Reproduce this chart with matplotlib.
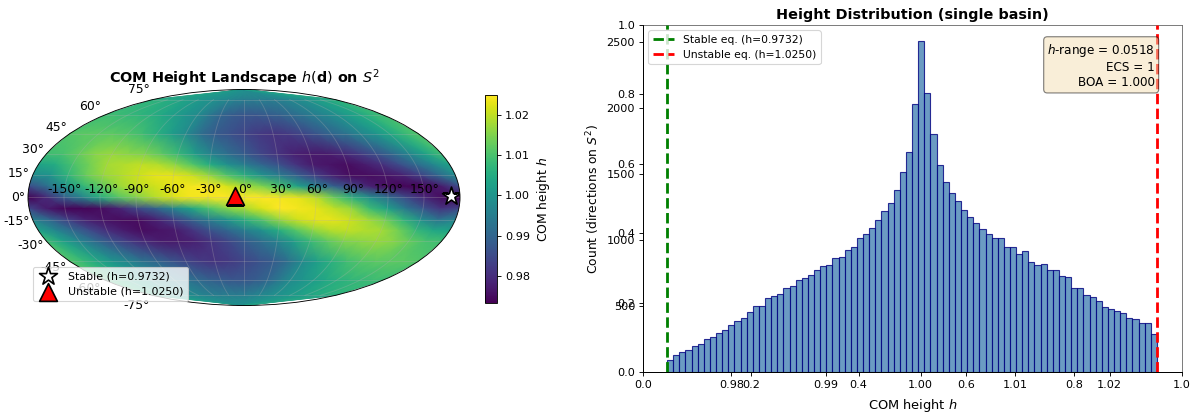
import numpy as np
import matplotlib
matplotlib.use("Agg")
import matplotlib.pyplot as plt
from matplotlib.transforms import Affine2D

DPI = 81
W, H = 1199, 415

H_STABLE = 0.9732
H_UNSTABLE = 1.0250
STABLE_LON, STABLE_LAT = 172.5, 1
UNSTABLE_LON, UNSTABLE_LAT = -7.5, 1

counts = [91, 129, 149, 167, 197, 212, 250, 265, 293, 321, 356, 384, 412, 457, 497, 500,
          561, 576, 591, 636, 651, 697, 710, 735, 770, 800, 813, 861, 871, 924, 944, 1013,
          1045, 1091, 1149, 1222, 1280, 1383, 1515, 1667, 2030, 2507, 2116, 1808, 1570, 1444,
          1359, 1298, 1232, 1174, 1126, 1083, 1048, 1015, 1013, 944, 944, 896, 914, 836, 813,
          816, 770, 770, 727, 717, 639, 636, 586, 566, 538, 490, 477, 460, 447, 407, 401, 374,
          371, 290]

lon_deg = [-180, -165, -150, -135, -120, -105, -90, -75, -60, -45, -30, -15, 0,
           15, 30, 45, 60, 75, 90, 105, 120, 135, 150, 165, 180]
lat_deg = [90, 75, 60, 45, 30, 22.5, 15, 7.5, 0, -7.5, -15, -22.5, -30, -45, -60, -75, -90]
h_p90 = [1.000] * 25
h_p75 = [1.006,1.006,1.005,1.004,1.003,1.002,1.001,1.000,.999,.998,.997,.996,.995,.995,.995,.995,.995,.996,.997,.998,.999,1.001,1.002,1.004,1.006]
h_p60 = [1.009,1.009,1.008,1.007,1.006,1.004,1.002,1.000,.998,.994,.990,.988,.987,.987,.988,.989,.991,.993,.995,.997,.999,1.002,1.004,1.007,1.009]
h_p45 = [1.011,1.012,1.012,1.012,1.011,1.009,1.006,1.002,.998,.992,.988,.986,.984,.982,.981,.982,.984,.987,.990,.993,.997,1.000,1.004,1.008,1.011]
h_p30 = [1.009,1.010,1.013,1.016,1.017,1.016,1.015,1.012,1.008,1.002,.996,.992,.988,.984,.981,.978,.977,.977,.979,.982,.986,.991,.997,1.003,1.009]
h_p22 = [1.003,1.005,1.010,1.014,1.018,1.019,1.020,1.019,1.016,1.011,1.005,.999,.995,.990,.986,.981,.977,.976,.975,.977,.980,.985,.991,.997,1.003]
h_p15 = [.998,1.000,1.007,1.013,1.017,1.019,1.021,1.023,1.023,1.021,1.017,1.011,1.006,1.000,.995,.989,.983,.978,.975,.975,.976,.978,.983,.990,.998]
h_p07 = [.985,.992,1.000,1.007,1.012,1.017,1.020,1.021,1.023,1.024,1.025,1.022,1.018,1.015,1.010,1.003,.996,.989,.984,.978,.975,.974,.974,.977,.985]
h_000 = [.973,.979,.988,.996,1.005,1.011,1.015,1.019,1.022,1.024,1.024,1.025,1.025,1.025,1.024,1.023,1.020,1.013,1.006,.999,.992,.985,.979,.975,.973]
h_m07 = [.984,.977,.974,.974,.975,.978,.984,.989,.996,1.003,1.010,1.015,1.018,1.022,1.025,1.024,1.023,1.020,1.017,1.009,1.003,.994,.987,.981,.984]
h_m15 = [.996,.990,.983,.978,.976,.975,.975,.978,.983,.989,.995,1.000,1.006,1.011,1.017,1.021,1.023,1.023,1.021,1.018,1.014,1.007,.999,.993,.996]
h_m22 = [1.003,.997,.991,.985,.980,.977,.975,.976,.977,.981,.986,.990,.995,.999,1.005,1.011,1.016,1.019,1.020,1.019,1.018,1.014,1.008,1.004,1.003]
h_m30 = [1.009,1.003,.997,.991,.986,.982,.979,.977,.977,.978,.981,.984,.988,.992,.996,1.002,1.008,1.012,1.015,1.016,1.017,1.016,1.013,1.010,1.009]
h_m45 = [1.011,1.008,1.004,1.000,.997,.993,.990,.987,.984,.982,.981,.982,.984,.986,.988,.992,.998,1.002,1.006,1.009,1.011,1.012,1.012,1.012,1.011]
h_m60 = [1.009,1.007,1.004,1.002,.999,.997,.995,.993,.991,.989,.988,.987,.987,.988,.990,.994,.998,1.000,1.002,1.004,1.006,1.007,1.008,1.009,1.009]
h_m75 = [1.006,1.004,1.002,1.001,.999,.998,.997,.996,.995,.995,.995,.995,.995,.996,.997,.998,.999,1.000,1.001,1.002,1.003,1.004,1.005,1.006,1.006]
h_m90 = [1.000] * 25
field = [h_p90, h_p75, h_p60, h_p45, h_p30, h_p22, h_p15, h_p07, h_000,
         h_m07, h_m15, h_m22, h_m30, h_m45, h_m60, h_m75, h_m90]

fig = plt.figure(figsize=(W / DPI, H / DPI), dpi=DPI)


def box(l, t, r, b):
    return [l / W, (H - b) / H, (r - l) / W, (b - t) / H]


# Left: landscape map
ax1 = fig.add_axes(box(28, 89, 460, 306), projection="mollweide")
mesh = ax1.pcolormesh(np.radians(lon_deg), np.radians(lat_deg), np.array(field),
                      cmap="viridis", vmin=H_STABLE, vmax=H_UNSTABLE, shading="gouraud")
ax1.grid(True, alpha=0.3)
ax1.tick_params(labelsize=11)
for tick in ax1.yaxis.get_major_ticks():
    tick.label1.set_transform(tick.label1.get_transform() + Affine2D().translate(5, 0))
for tick in ax1.xaxis.get_major_ticks():
    tick.label1.set_transform(tick.label1.get_transform() + Affine2D().translate(1, -3))
ax1.scatter(np.radians([STABLE_LON]), np.radians([STABLE_LAT]), marker="*", s=280, c="white",
            edgecolors="black", linewidths=1.5, zorder=5, label=f"Stable (h={H_STABLE:.4f})")
ax1.scatter(np.radians([UNSTABLE_LON]), np.radians([UNSTABLE_LAT]), marker="^", s=250, c="red",
            edgecolors="black", linewidths=1.5, zorder=5, label=f"Unstable (h={H_UNSTABLE:.4f})")
ax1.set_title(r"COM Height Landscape $h(\mathbf{d})$ on $S^2$", fontsize=12.8, fontweight="bold", pad=6)
ax1.legend(loc="lower left", bbox_to_anchor=(33 / W, (H - 301) / H), bbox_transform=fig.transFigure,
           fontsize=9.8, borderaxespad=0, borderpad=0.4)

cax = fig.add_axes(box(485, 95, 497, 303))
cb = fig.colorbar(mesh, cax=cax)
cb.set_ticks([0.98, 0.99, 1.00, 1.01, 1.02])
cb.set_label("COM height $h$", fontsize=11, labelpad=5)

# Right: underlying empty axes carrying the 0-1 ticks
pos = box(643, 25, 1182, 372)
ax0 = fig.add_axes(pos)
ax0.spines["top"].set_color("#707070")
ax0.spines["right"].set_color("#707070")

ax2 = fig.add_axes(pos, facecolor="none")
edges = np.linspace(H_STABLE, H_UNSTABLE, len(counts) + 1)
ax2.bar(edges[:-1], counts, width=np.diff(edges), align="edge", color="steelblue",
        edgecolor="navy", alpha=0.8, linewidth=1.0)
ax2.axvline(H_STABLE, color="green", linestyle="--", linewidth=2.5, label=f"Stable eq. (h={H_STABLE:.4f})")
ax2.axvline(H_UNSTABLE, color="red", linestyle="--", linewidth=2.5, label=f"Unstable eq. (h={H_UNSTABLE:.4f})")
ax2.set_xlim(0.97065, 1.02765)
ax2.set_ylim(0, 2631)
ax2.set_xticks([0.98, 0.99, 1.00, 1.01, 1.02])
ax2.set_yticks([500, 1000, 1500, 2000, 2500])
ax2.spines["top"].set_visible(False)
ax2.spines["right"].set_visible(False)
ax2.set_xlabel("COM height $h$", fontsize=11.5, labelpad=6)
ax2.set_ylabel("Count (directions on $S^2$)", fontsize=11)
ax2.set_title("Height Distribution (single basin)", fontsize=12.8, fontweight="bold", pad=5)
ax2.legend(loc="upper left", fontsize=9.6)
ax2.text(0.95, 0.95, "$h$-range = 0.0518\nECS = 1\nBOA = 1.000", transform=ax2.transAxes,
         ha="right", va="top", fontsize=10.7,
         bbox=dict(boxstyle="round", facecolor="wheat", alpha=0.5))

fig.savefig("out.png", dpi=DPI)
